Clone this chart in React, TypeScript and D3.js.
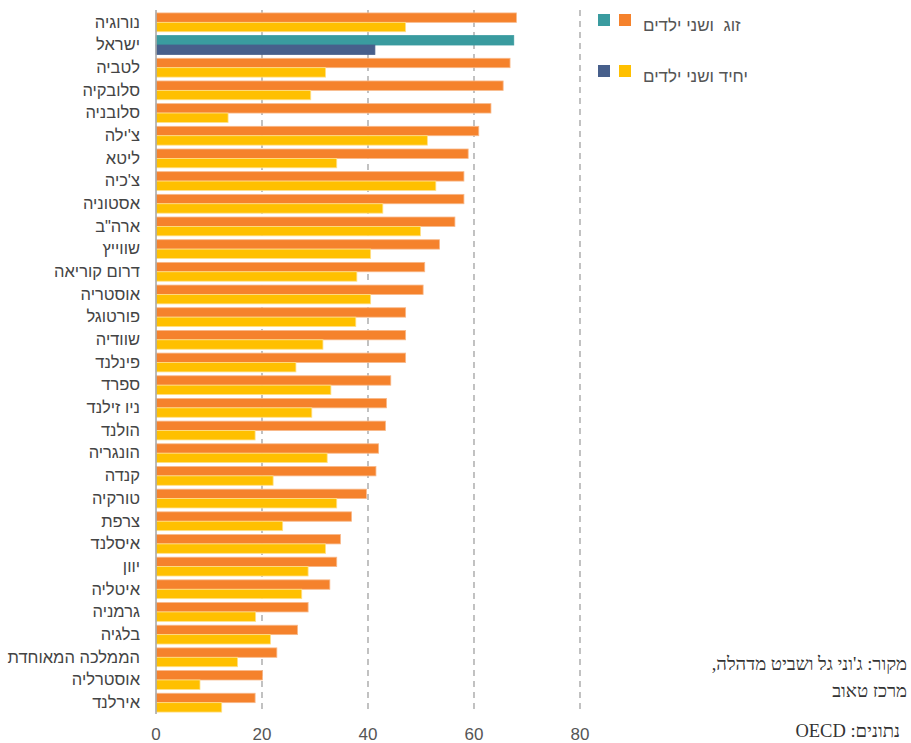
import React from "react";
import * as d3 from "d3";

const countries = [
  "נורוגיה", "ישראל", "לטביה", "סלובקיה", "סלובניה", "צ'ילה", "ליטא", "צ'כיה",
  "אסטוניה", 'ארה"ב', "שווייץ", "דרום קוריאה", "אוסטריה", "פורטוגל", "שוודיה",
  "פינלנד", "ספרד", "ניו זילנד", "הולנד", "הונגריה", "קנדה", "טורקיה", "צרפת",
  "איסלנד", "יוון", "איטליה", "גרמניה", "בלגיה", "הממלכה המאוחדת", "אוסטרליה", "אירלנד",
];

const coupleValues = [
  68.0, 67.5, 66.8, 65.5, 63.2, 60.9, 58.9, 58.1, 58.1, 56.4, 53.5, 50.7, 50.4, 47.1,
  47.1, 47.1, 44.3, 43.5, 43.3, 42.0, 41.5, 39.7, 36.9, 34.8, 34.1, 32.8, 28.7, 26.7,
  22.8, 20.1, 18.7,
];

const singleValues = [
  47.1, 41.3, 32.0, 29.2, 13.6, 51.2, 34.1, 52.8, 42.8, 49.9, 40.5, 37.9, 40.5, 37.7,
  31.5, 26.4, 33.0, 29.4, 18.7, 32.3, 22.1, 34.1, 23.9, 32.0, 28.7, 27.5, 18.8, 21.6,
  15.4, 8.3, 12.4,
];

const xTicks = [0, 20, 40, 60, 80];
const highlight = "ישראל";

const legendItems = [
  { label: "זוג  ושני ילדים", colors: ["#3A9B9F", "#F5822C"] },
  { label: "יחיד ושני ילדים", colors: ["#475F8B", "#FFC000"] },
];

const sourceLines = ["מקור: ג'וני גל ושביט מדהלה,", "מרכז טאוב"];
const dataLine = "נתונים: OECD";

const W = 911;
const H = 743;

export default function App() {
  const x = d3.scaleLinear().domain([0, 80]).range([156, 580]);
  const y = d3
    .scaleBand<string>()
    .domain(countries)
    .range([11, 714])
    .paddingInner(0.17)
    .paddingOuter(0.085);
  const bw = y.bandwidth();
  const half = bw / 2;
  const font = "'Liberation Sans', Arial, sans-serif";
  const serif = "'Liberation Serif', 'Times New Roman', serif";

  return (
    <svg
      width={W}
      height={H}
      style={{ position: "absolute", left: 0, top: 0, background: "#fff" }}
    >
      {/* grid */}
      {xTicks.filter((t) => t > 0).map((t) => (
        <line
          key={"g" + t}
          x1={x(t)}
          x2={x(t)}
          y1={10}
          y2={714}
          stroke="#999"
          strokeWidth={1.2}
          strokeDasharray="6,5"
        />
      ))}

      {/* bars */}
      {countries.map((c, i) => {
        const y0 = y(c)!;
        const isH = c === highlight;
        return (
          <g key={c}>
            <rect
              x={x(0)}
              y={y0}
              width={x(coupleValues[i]) - x(0)}
              height={half}
              fill={isH ? "#3A9B9F" : "#F5822C"}
              stroke={isH ? "#3A9B9F" : "#F8B98A"}
              strokeWidth={0.8}
            />
            <rect
              x={x(0)}
              y={y0 + half}
              width={x(singleValues[i]) - x(0)}
              height={half}
              fill={isH ? "#475F8B" : "#FFC000"}
              stroke={isH ? "#475F8B" : "#FFE08A"}
              strokeWidth={0.8}
            />
            <text
              x={140}
              y={y0 + bw / 2 - 0.5}
              dy="0.35em"
              textAnchor="end"
              fontFamily={font}
              fontSize={16.5}
              fill="#444"
            >
              {c}
            </text>
          </g>
        );
      })}

      {/* axis line */}
      <line x1={x(0)} x2={x(0)} y1={10} y2={714} stroke="#aaa" strokeWidth={1.6} />

      {/* tick labels */}
      {xTicks.map((t) => (
        <text
          key={"t" + t}
          x={x(t)}
          y={740}
          textAnchor="middle"
          fontFamily={font}
          fontSize={17}
          fill="#555"
        >
          {t}
        </text>
      ))}

      {/* legend */}
      {legendItems.map((item, i) => {
        const ly = 14 + i * 51;
        return (
          <g key={"l" + i}>
            <rect x={598} y={ly} width={12} height={12} fill={item.colors[0]} />
            <rect x={619} y={ly} width={12} height={12} fill={item.colors[1]} />
            <text
              x={643}
              y={ly + 11}
              dy="0.35em"
              textAnchor="start"
              fontFamily={font}
              fontSize={17}
              fill="#555"
              style={{ whiteSpace: "pre" }}
            >
              {item.label}
            </text>
          </g>
        );
      })}

      {/* source */}
      {sourceLines.map((s, i) => (
        <text
          key={"s" + i}
          x={907}
          y={670 + i * 27}
          direction="rtl"
          textAnchor="start"
          fontFamily={serif}
          fontSize={18.5}
          fill="#333"
        >
          {s}
        </text>
      ))}
      <text
        x={900}
        y={737}
        direction="rtl"
        textAnchor="start"
        fontFamily={serif}
        fontSize={18.5}
        fill="#333"
      >
        {dataLine}
      </text>
    </svg>
  );
}
